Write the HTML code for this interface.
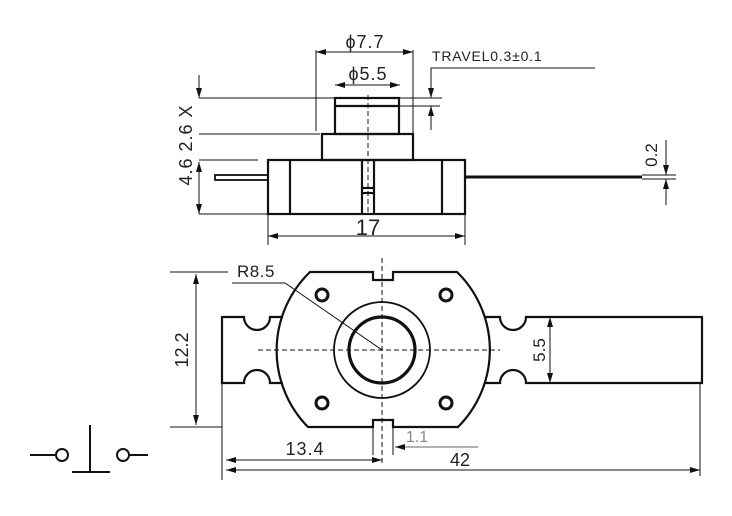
<!DOCTYPE html>
<html><head><style>body{margin:0;background:#fff}svg{display:block}text{font-family:"Liberation Sans","DejaVu Sans",sans-serif;fill:#222}</style></head><body>
<svg width="732" height="516" viewBox="0 0 732 516" xmlns="http://www.w3.org/2000/svg">
<defs>
<marker id="a" viewBox="0 0 10 6" refX="10" refY="3" markerWidth="10" markerHeight="6" orient="auto-start-reverse" markerUnits="userSpaceOnUse"><path d="M0,0L10,3L0,6z" fill="#111"/></marker>
</defs>
<g fill="none" stroke="#111">
<g stroke-width="2.2">
<rect x="268" y="160" width="197" height="54"/>
<line x1="290" y1="160" x2="290" y2="214"/>
<line x1="442" y1="160" x2="442" y2="214"/>
<rect x="322" y="134" width="91" height="26"/>
<rect x="335" y="98" width="64" height="36"/>
<line x1="335" y1="106" x2="399" y2="106"/>
<line x1="362" y1="160" x2="362" y2="214"/>
<line x1="374" y1="160" x2="374" y2="214"/>
<line x1="362" y1="188" x2="374" y2="188"/>
<line x1="362" y1="193" x2="374" y2="193"/>
<rect x="215" y="175" width="53" height="5" stroke-width="1.8"/>
<line x1="465" y1="177" x2="642" y2="177" stroke-width="3"/>
</g>
<g stroke-width="1">
<line x1="368" y1="95" x2="368" y2="214" stroke-dasharray="5,3"/>
<line x1="316" y1="50" x2="316" y2="131"/>
<line x1="413" y1="50" x2="413" y2="134"/>
<line x1="316" y1="52" x2="413" y2="52" marker-start="url(#a)" marker-end="url(#a)"/>
<line x1="335" y1="85" x2="400" y2="85" marker-start="url(#a)" marker-end="url(#a)"/>
<polyline points="595,68 431,68 431,98" marker-end="url(#a)"/>
<line x1="431" y1="130" x2="431" y2="106" marker-end="url(#a)"/>
<line x1="400" y1="98" x2="442" y2="98"/>
<line x1="400" y1="106" x2="440" y2="106"/>
<line x1="199" y1="75" x2="199" y2="98" marker-end="url(#a)"/>
<line x1="199" y1="98" x2="335" y2="98"/>
<line x1="199" y1="134" x2="320" y2="134"/>
<line x1="199" y1="160" x2="258" y2="160"/>
<line x1="199" y1="162" x2="199" y2="214" marker-start="url(#a)" marker-end="url(#a)"/>
<line x1="199" y1="214" x2="268" y2="214"/>
<line x1="666" y1="140" x2="666" y2="175" marker-end="url(#a)"/>
<line x1="666" y1="205" x2="666" y2="179" marker-end="url(#a)"/>
<line x1="642" y1="175" x2="676" y2="175"/>
<line x1="642" y1="179" x2="676" y2="179"/>
<line x1="268" y1="214" x2="268" y2="245"/>
<line x1="465" y1="214" x2="465" y2="245"/>
<line x1="268" y1="236" x2="465" y2="236" marker-start="url(#a)" marker-end="url(#a)"/>
</g>
<g stroke-width="2.2">
<path d="M310,272 L373,272 L373,280 L393,280 L393,272 L457,272 A109,109 0 0 1 458,427 L393,427 L393,420 L373,420 L373,427 L308,427 A109,109 0 0 1 310,272 Z"/>
<path d="M283,317 L270,317 A13,13 0 0 1 244,317 L222,317 L222,383 L244,383 A13,13 0 0 1 270,383 L283,383"/>
<path d="M484,317 L500,317 A13,13 0 0 0 526,317 L702,317 L702,383 L526,383 A13,13 0 0 0 500,383 L484,383" />
<circle cx="382" cy="350" r="33" stroke-width="3.2"/>
<circle cx="382" cy="350" r="48" stroke-width="1.8"/>
<g stroke-width="3"><circle cx="322" cy="295" r="6"/><circle cx="446" cy="295" r="6"/><circle cx="322" cy="403" r="6"/><circle cx="446" cy="403" r="6"/></g>
</g>
<g stroke-width="1">
<line x1="258" y1="350" x2="500" y2="350" stroke-dasharray="5,3"/>
<line x1="382" y1="258" x2="382" y2="465" stroke-dasharray="5,3"/>
<polyline points="232,283 285,283 382,350"/>
<line x1="170" y1="272" x2="228" y2="272"/>
<line x1="170" y1="427" x2="222" y2="427"/>
<line x1="196" y1="274" x2="196" y2="425" marker-start="url(#a)" marker-end="url(#a)"/>
<line x1="550" y1="317" x2="550" y2="383" marker-start="url(#a)" marker-end="url(#a)"/>
<line x1="222" y1="383" x2="222" y2="480"/>
<line x1="700" y1="383" x2="700" y2="476"/>
<line x1="226" y1="460" x2="382" y2="460" marker-start="url(#a)" marker-end="url(#a)"/>
<line x1="226" y1="470" x2="700" y2="470" marker-start="url(#a)" marker-end="url(#a)"/>
<line x1="373" y1="427" x2="373" y2="455"/>
<line x1="393" y1="427" x2="393" y2="455"/>
<line x1="478" y1="447" x2="395" y2="447" marker-end="url(#a)" stroke="#666"/>
</g>
<g stroke-width="2">
<line x1="30" y1="455" x2="55" y2="455"/>
<circle cx="62" cy="455" r="6"/>
<line x1="90" y1="425" x2="90" y2="472"/>
<line x1="72" y1="472" x2="110" y2="472"/>
<circle cx="123" cy="455" r="6"/>
<line x1="129" y1="455" x2="148" y2="455"/>
</g>
</g>
<text x="365" y="48" font-size="18" text-anchor="middle" letter-spacing="1">ϕ7.7</text>
<text x="368" y="80" font-size="18" text-anchor="middle" letter-spacing="1">ϕ5.5</text>
<text x="432" y="61" font-size="14" letter-spacing="0.8">TRAVEL0.3±0.1</text>
<text transform="translate(192,145) rotate(-90)" font-size="18" text-anchor="middle" letter-spacing="1">4.6 2.6 X</text>
<text transform="translate(657,155) rotate(-90)" font-size="17" text-anchor="middle">0.2</text>
<text x="368" y="235" font-size="22" text-anchor="middle">17</text>
<text x="237" y="277" font-size="17" letter-spacing="0.5">R8.5</text>
<text transform="translate(188,350) rotate(-90)" font-size="18" text-anchor="middle">12.2</text>
<text transform="translate(545,350) rotate(-90)" font-size="17" text-anchor="middle">5.5</text>
<text x="305" y="455" font-size="18" text-anchor="middle" letter-spacing="1">13.4</text>
<text x="460" y="466" font-size="18" text-anchor="middle">42</text>
<text x="417" y="442" font-size="16" text-anchor="middle" style="fill:#888">1.1</text>
</svg>
</body></html>
